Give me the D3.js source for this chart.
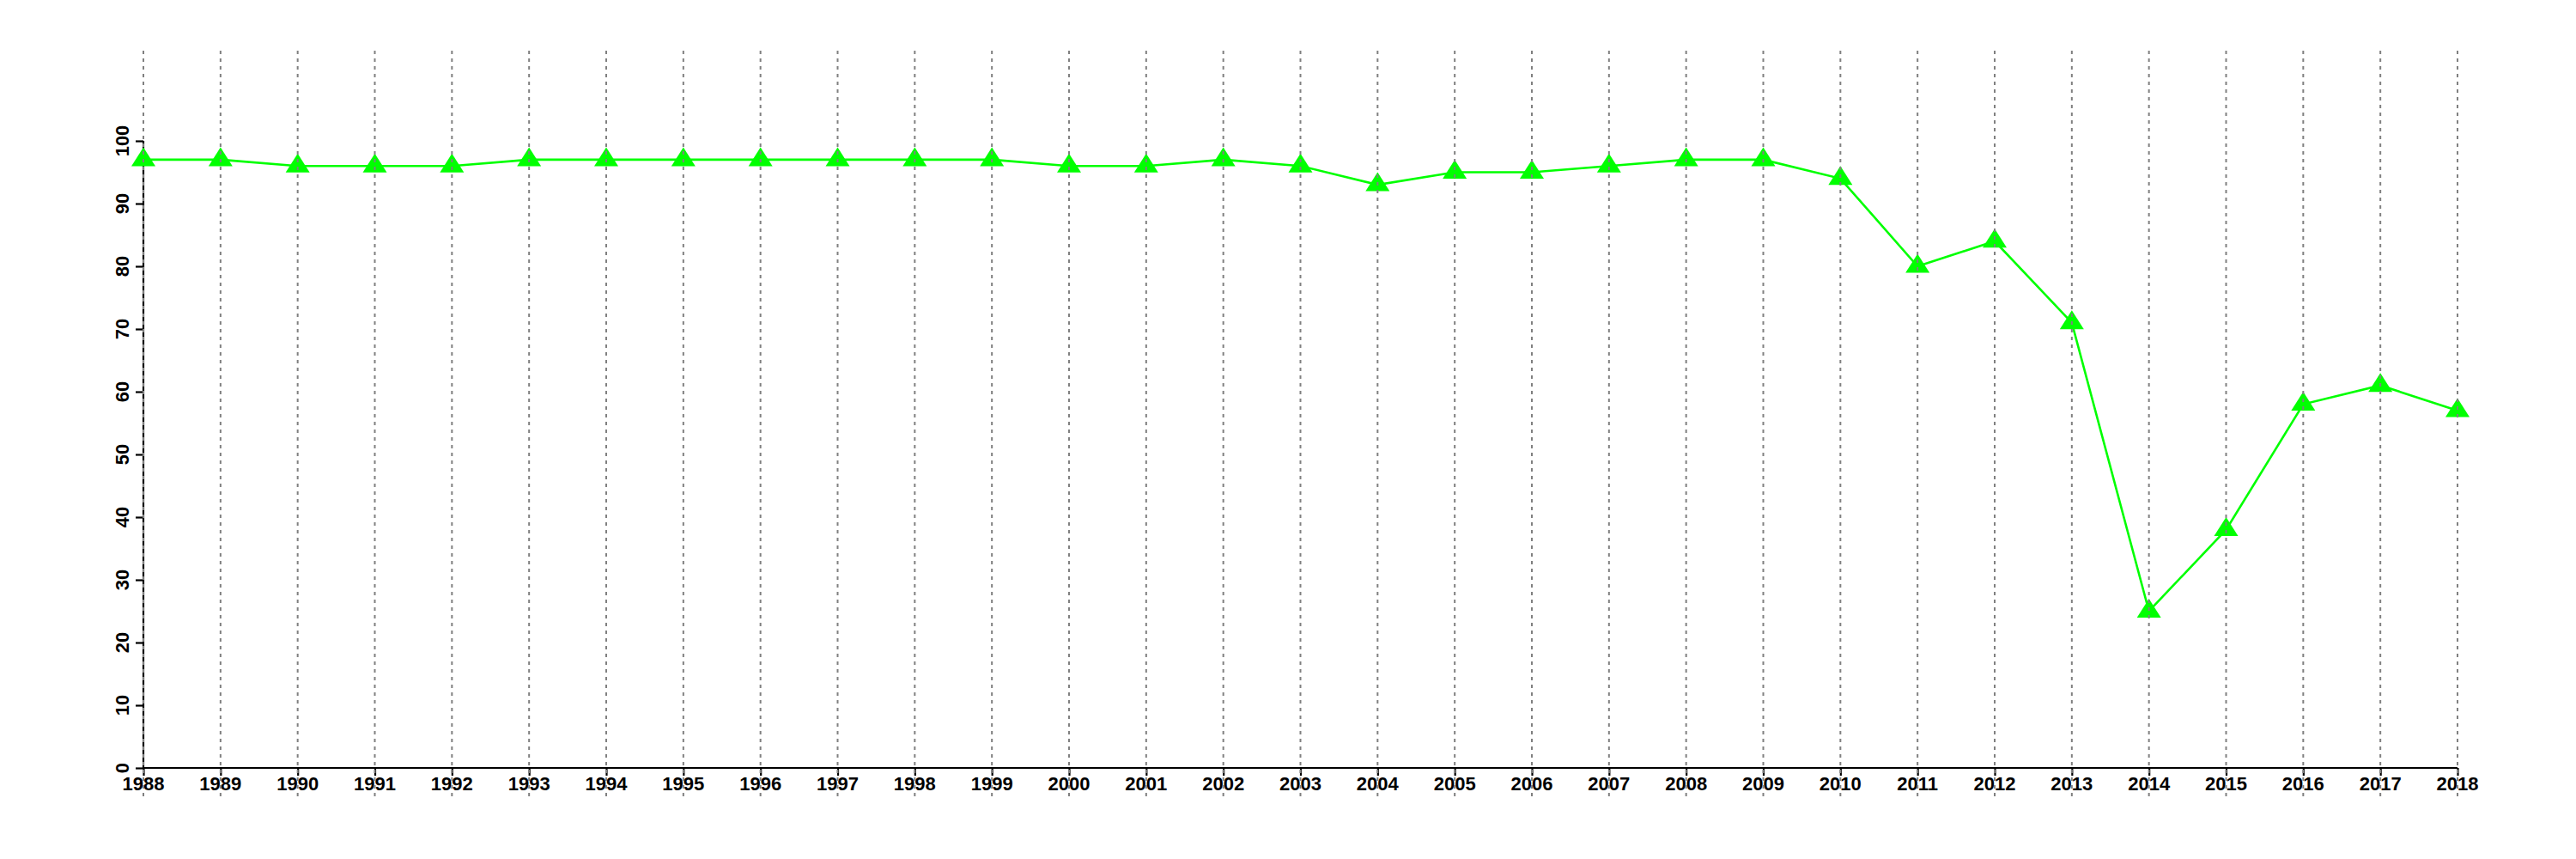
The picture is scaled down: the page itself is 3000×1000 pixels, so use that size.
<!DOCTYPE html>
<html>
<head>
<meta charset="utf-8">
<script src="https://cdn.jsdelivr.net/npm/d3@7"></script>
<style>
  html, body { margin: 0; padding: 0; background: #fff; }
  svg { display: block; }
  text { font-family: "Liberation Sans", Arial, Helvetica, sans-serif; font-weight: bold; font-size: 22px; fill: #000; }
</style>
</head>
<body>
<svg id="chart" width="3000" height="1000"></svg>
<script>
// ---- data ----
const years = [1988, 1989, 1990, 1991, 1992, 1993, 1994, 1995, 1996, 1997,
               1998, 1999, 2000, 2001, 2002, 2003, 2004, 2005, 2006, 2007,
               2008, 2009, 2010, 2011, 2012, 2013, 2014, 2015, 2016, 2017, 2018];
const values = [97, 97, 96, 96, 96, 97, 97, 97, 97, 97,
                97, 97, 96, 96, 97, 96, 93, 95, 95, 96,
                97, 97, 94, 80, 84, 71, 25, 38, 58, 61, 57];
const yTickValues = [0, 10, 20, 30, 40, 50, 60, 70, 80, 90, 100];
const xTickValues = years;

// ---- layout ----
const plotLeft = 167, plotRight = 2862, plotTop = 164, plotBottom = 894;
const gridTop = 59, gridBottom = 927;
const lineColor = "#00ff00";

const svg = d3.select("#chart");
const x = d3.scaleLinear().domain([1988, 2018]).range([plotLeft, plotRight]);
const y = d3.scaleLinear().domain([0, 100]).range([plotBottom, plotTop]);

// y axis
const yAxis = d3.axisLeft(y).tickValues(yTickValues).tickSize(9).tickFormat("");
const gy = svg.append("g").attr("transform", `translate(${plotLeft},0)`).call(yAxis);
gy.select(".domain").attr("stroke", "#000").attr("stroke-width", 2.2).attr("d", `M0,${y(0)}V${y(100)}`);
gy.selectAll(".tick line").attr("stroke", "#000").attr("stroke-width", 2.2);
svg.append("g").selectAll("text").data(yTickValues).join("text")
  .attr("transform", d => `translate(${plotLeft - 17},${y(d)}) rotate(-90)`)
  .attr("text-anchor", "middle")
  .text(d => d);

// x axis
const xAxis = d3.axisBottom(x).tickValues(xTickValues).tickSize(9).tickFormat("");
const gx = svg.append("g").attr("transform", `translate(0,${plotBottom})`).call(xAxis);
gx.select(".domain").attr("stroke", "#000").attr("stroke-width", 2.2).attr("d", `M${x(1988)},0H${x(2018)}`);
gx.selectAll(".tick line").attr("stroke", "#000").attr("stroke-width", 2.2);
svg.append("g").selectAll("text").data(xTickValues).join("text")
  .attr("x", d => x(d))
  .attr("y", plotBottom + 26)
  .attr("text-anchor", "middle")
  .text(d => d);

// line
const pts = years.map((yr, i) => [yr, values[i]]);
svg.append("path")
  .datum(pts)
  .attr("fill", "none")
  .attr("stroke", lineColor)
  .attr("stroke-width", 2.6)
  .attr("d", d3.line().x(d => x(d[0])).y(d => y(d[1])));

// triangle markers
const tri = "M0,-14.5L14,7.5L-14,7.5Z";
svg.append("g").selectAll("path").data(pts).join("path")
  .attr("transform", d => `translate(${x(d[0])},${y(d[1])})`)
  .attr("d", tri)
  .attr("fill", lineColor);

// vertical dotted grid lines (drawn on top, as in reference)
svg.append("g").selectAll("line").data(xTickValues).join("line")
  .attr("x1", d => x(d)).attr("x2", d => x(d))
  .attr("y1", gridTop).attr("y2", gridBottom)
  .attr("stroke", "#808080")
  .attr("stroke-width", 2)
  .attr("stroke-dasharray", "4,5");
</script>
</body>
</html>
